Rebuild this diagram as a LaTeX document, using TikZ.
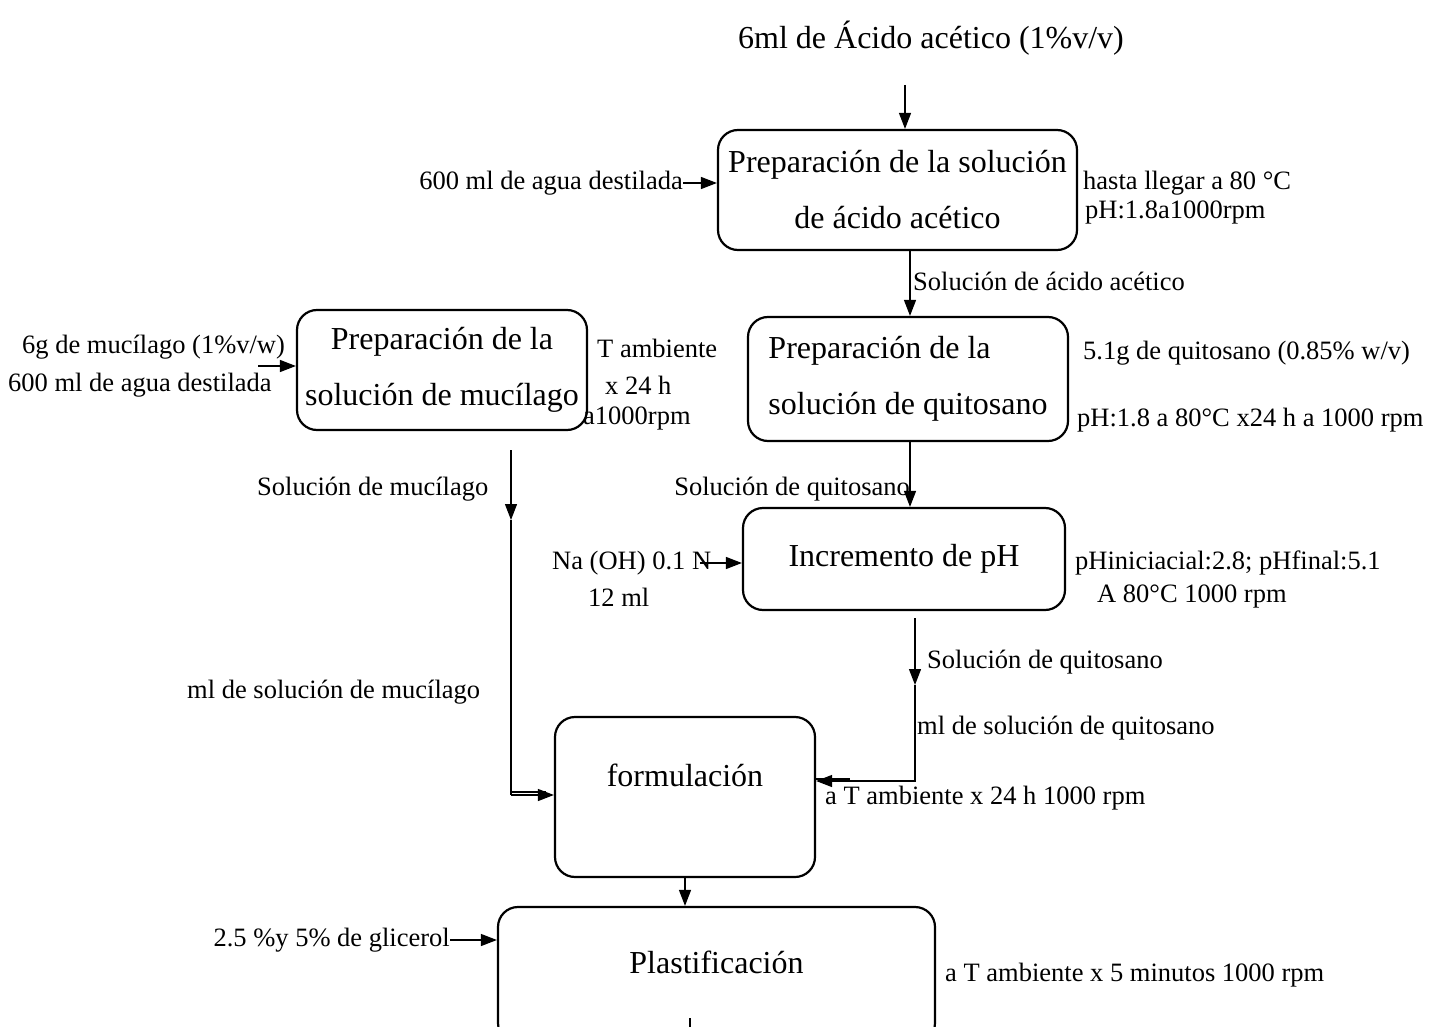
\documentclass[tikz,border=0pt]{standalone}
\usepackage{fontspec}
\setmainfont{Liberation Serif}
\usetikzlibrary{arrows.meta,positioning}
\tikzset{
  caja/.style={draw,line width=2.2pt,rounded corners=20pt,inner sep=0pt,align=center,
    font=\fontsize{32}{56}\selectfont},
  titulo/.style={inner sep=0pt,font=\fontsize{32}{56}\selectfont},
  etiq/.style={inner sep=0pt,align=left,font=\fontsize{26.5}{29}\selectfont},
  flecha/.style={-{Triangle[length=16pt,width=12pt]},line width=1.3pt},
  linea/.style={line width=1.3pt},
}
\begin{document}
\begin{tikzpicture}[x=1pt,y=-1pt]
\useasboundingbox (0,0) rectangle (1430,1027);

% cajas
\node[caja,minimum width=359,minimum height=120] (acet) at (897.5,190) {Preparación de la solución\\de ácido acético};
\node[caja,minimum width=320,minimum height=124,align=left] (quit) at (908,379) {Preparación de la\\solución de quitosano};
\node[caja,minimum width=290,minimum height=120] (muci) at (442,370) {Preparación de la\\solución de mucílago};
\node[caja,minimum width=322,minimum height=102] (incr) at (904,559) {Incremento de pH};
\node[caja,minimum width=260,minimum height=160] (form) at (685,797) {};
\node[titulo] at ([yshift=22pt]form.center) {formulación};
\node[caja,minimum width=437,minimum height=136] (plast) at (716.5,975) {};
\node[titulo] at ([yshift=13pt]plast.center) {Plastificación};

% textos
\node[titulo] (acid) at (931,38) {6ml de Ácido acético (1\%v/v)};
\node[etiq,anchor=east] (agua1) at (683,183) {600 ml de agua destilada};
\node[etiq,anchor=west] (hasta) at (1083,198) {hasta llegar a 80 °C\\\hspace{2pt}pH:1.8a1000rpm};
\node[etiq,anchor=west] (solac) at (913,281) {Solución de ácido acético};
\node[etiq,anchor=west] (quito1) at (1083,353) {5.1g de quitosano (0.85\% w/v)};
\node[etiq,anchor=west] (quito2) at (1077,420) {pH:1.8 a 80°C x24 h a 1000 rpm};
\node[etiq,anchor=west] (muc1) at (22,347) {6g de mucílago (1\%v/w)};
\node[etiq,anchor=west] (agua2) at (8,385) {600 ml de agua destilada};
\node[etiq,anchor=west] (tamb1) at (597,348) {T ambiente};
\node[etiq,anchor=west] (tamb2) at (605,385) {x 24 h};
\node[etiq,anchor=west] (tamb3) at (583,419) {a1000rpm};
\node[etiq,anchor=west] (solmuc) at (257,489) {Solución de mucílago};
\node[etiq,anchor=west] (mlmuc) at (187,692) {ml de solución de mucílago};
\node[etiq,anchor=east] (solq1) at (910,489) {Solución de quitosano};
\node[etiq,anchor=west] (naoh) at (552,563) {Na (OH) 0.1 N};
\node[etiq,anchor=west] (doce) at (588,597) {12 ml};
\node[etiq,anchor=west] (phini) at (1075,563) {pHiniciacial:2.8; pHfinal:5.1};
\node[etiq,anchor=west] (phfin) at (1097,597) {A 80°C 1000 rpm};
\node[etiq,anchor=west] (solq2) at (927,662) {Solución de quitosano};
\node[etiq,anchor=west] (mlq) at (917,728) {ml de solución de quitosano};
\node[etiq,anchor=west] (tamb24) at (825,798) {a T ambiente x 24 h 1000 rpm};
\node[etiq,anchor=east] (glic) at (450,940) {2.5 \%y 5\% de glicerol};
\node[etiq,anchor=west] (tamb5) at (945,975) {a T ambiente x 5 minutos 1000 rpm};

% puntos libres
\coordinate (a0) at (905,85);
\coordinate (m0) at (258,366);
\coordinate (m1) at (511,450);
\coordinate (m2) at (511,520);
\coordinate (m3) at (511,792);
\coordinate (n0) at (700,563);
\coordinate (q1) at (915,618);
\coordinate (q2) at (915,685);

% flechas
\draw[flecha] (a0) -- (a0 |- acet.north);
\draw[flecha] (agua1.east) -- (agua1.east -| acet.west);
\draw[flecha] ([xshift=12.5pt]acet.south) -- ([xshift=2pt]quit.north);
\draw[flecha] ([xshift=2pt]quit.south) -- ([xshift=6pt]incr.north);
\draw[flecha] (m0) -- (m0 -| muci.west);
\draw[flecha] (m1) -- (m2);
\draw[linea] (m2) -- ([yshift=2pt]m2 |- form.west);
\draw[flecha] ([yshift=2pt]m2 |- form.west) -- ([yshift=2pt]form.west);
\draw[linea] (m3) -- ([xshift=-8pt]m3 -| form.west);
\draw[flecha] (n0) -- (n0 -| incr.west);
\draw[flecha] (q1) -- (q2);
\draw[flecha] (q2) |- ([yshift=16pt]form.east);
\draw[linea] ([yshift=18pt]form.east) -- ++(34,0);
\draw[flecha] (form.south) -- ([xshift=-31.5pt]plast.north);
\draw[flecha] (glic.east) -- (glic.east -| plast.west);
\draw[linea] ([xshift=-26.5pt]plast.south) -- ++(0,-26);
\end{tikzpicture}
\end{document}
